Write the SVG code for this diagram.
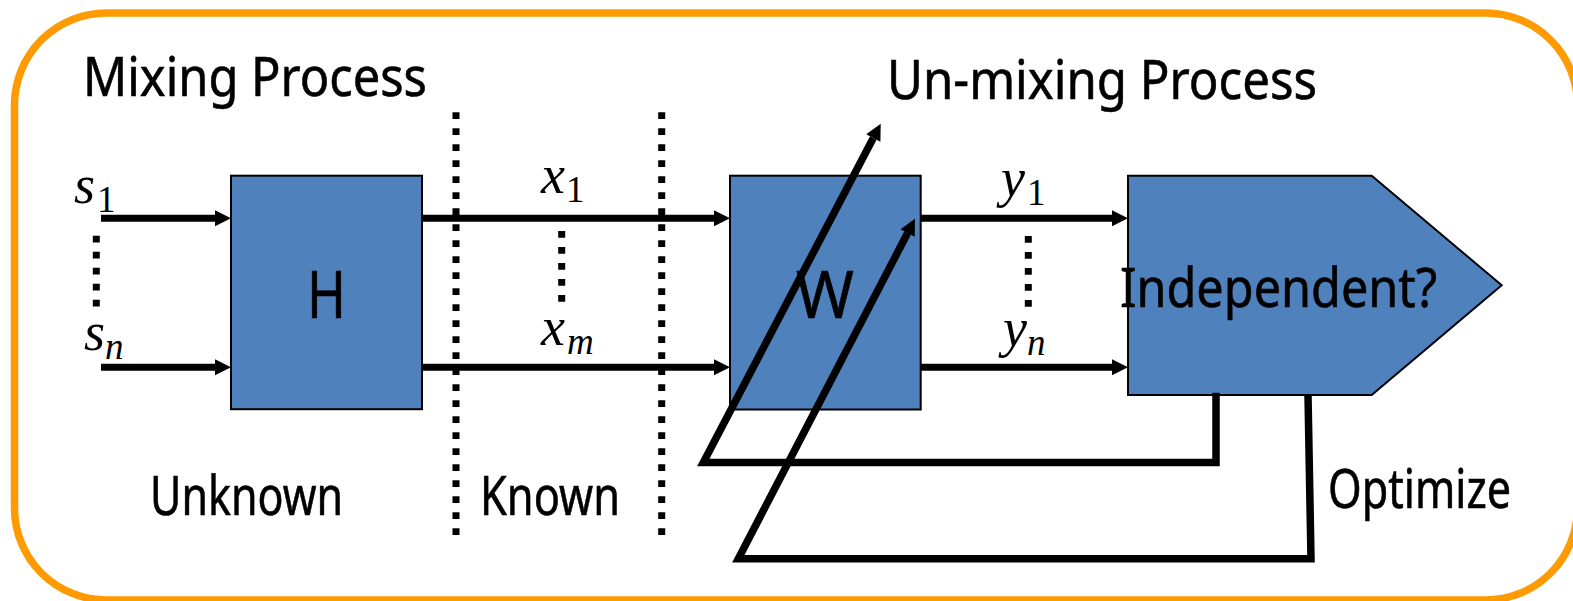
<svg xmlns="http://www.w3.org/2000/svg" width="1573" height="601" viewBox="0 0 1573 601">
<style>
.box{fill:#4F81BD;stroke:#000;stroke-width:2}
.lbl{font-family:"Noto Sans","DejaVu Sans","Liberation Sans",sans-serif;font-size:54px;fill:#000;stroke:#000;stroke-width:0.6}
.big{font-size:65px}
.mi{font-family:"Liberation Serif","DejaVu Serif",serif;font-style:italic;font-size:54px;fill:#000}
.sub{font-family:"Liberation Serif","DejaVu Serif",serif;font-size:37px;fill:#000}
.subi{font-family:"Liberation Serif","DejaVu Serif",serif;font-style:italic;font-size:37px;fill:#000}
.wire{fill:none;stroke:#000;stroke-width:7}
.arr{fill:none;stroke:#000;stroke-width:7;marker-end:url(#ah)}
.fb{fill:none;stroke:#000;stroke-width:7.5;marker-end:url(#ah)}
.dots{fill:none;stroke:#000;stroke-width:7;stroke-dasharray:6.7 9.3}
</style>
<defs>
<marker id="ah" markerUnits="userSpaceOnUse" markerWidth="18" markerHeight="18" refX="0" refY="8" orient="auto" overflow="visible">
<path d="M0,0 L16,8 L0,16 z" fill="#000"/>
</marker>
</defs>
<rect id="frame" x="14.5" y="13" width="1563" height="587" rx="92" ry="92" fill="#fff" stroke="#FF9A00" stroke-width="7.5"/>

<g id="titles">
<text class="lbl" x="83" y="96" textLength="344" lengthAdjust="spacingAndGlyphs">Mixing Process</text>
<text class="lbl" x="887" y="99" textLength="430" lengthAdjust="spacingAndGlyphs">Un-mixing Process</text>
<text class="lbl" x="150" y="515" textLength="193" lengthAdjust="spacingAndGlyphs">Unknown</text>
<text class="lbl" x="480" y="515" textLength="140" lengthAdjust="spacingAndGlyphs">Known</text>
<text class="lbl" x="1328" y="508" textLength="183" lengthAdjust="spacingAndGlyphs">Optimize</text>
</g>

<g id="dividers">
<line class="dots" x1="456" y1="112.3" x2="456" y2="536"/>
<line class="dots" x1="661.7" y1="112.3" x2="661.7" y2="536"/>
<line class="dots" x1="96.3" y1="235.7" x2="96.3" y2="307"/>
<line class="dots" x1="561.7" y1="231" x2="561.7" y2="303"/>
<line class="dots" x1="1028.3" y1="236" x2="1028.3" y2="307"/>
</g>

<g id="node-H">
<rect class="box" x="231" y="175.7" width="191" height="233.5"/>
<text class="lbl big" x="307" y="318" textLength="39" lengthAdjust="spacingAndGlyphs">H</text>
</g>

<g id="node-W">
<rect class="box" x="730" y="175.7" width="190.7" height="233.8"/>
<text class="lbl big" x="796" y="318" textLength="58" lengthAdjust="spacingAndGlyphs">W</text>
</g>

<g id="node-independent">
<polygon class="box" points="1128,175.7 1371.7,175.7 1501.7,285.3 1371.7,395 1128,395"/>
<text class="lbl" x="1120" y="307.3" textLength="317" lengthAdjust="spacingAndGlyphs">Independent?</text>
</g>

<g id="connectors">
<line class="arr" x1="101" y1="218.3" x2="215" y2="218.3"/>
<line class="arr" x1="101" y1="367.3" x2="215" y2="367.3"/>
<line class="arr" x1="422" y1="218.3" x2="714" y2="218.3"/>
<line class="arr" x1="422" y1="367.3" x2="714" y2="367.3"/>
<line class="arr" x1="920.7" y1="218.3" x2="1112" y2="218.3"/>
<line class="arr" x1="920.7" y1="367.3" x2="1112" y2="367.3"/>
<polyline class="fb" stroke-linejoin="miter" points="1216,392.7 1216,462.5 703.3,462.5 873.3,138"/>
<polyline class="fb" stroke-linejoin="miter" points="1308,395 1311,558.7 738.3,558.7 907.6,233"/>
</g>

<g id="signal-labels">
<text class="mi" x="74" y="203">s</text><text class="sub" x="97" y="212">1</text>
<text class="mi" x="84" y="350">s</text><text class="subi" x="105" y="359">n</text>
<text class="mi" x="541" y="193">x</text><text class="sub" x="566" y="202">1</text>
<text class="mi" x="541" y="345">x</text><text class="subi" x="567" y="354">m</text>
<text class="mi" x="1001" y="196">y</text><text class="sub" x="1027" y="205">1</text>
<text class="mi" x="1003" y="346">y</text><text class="subi" x="1027" y="355">n</text>
</g>
</svg>
